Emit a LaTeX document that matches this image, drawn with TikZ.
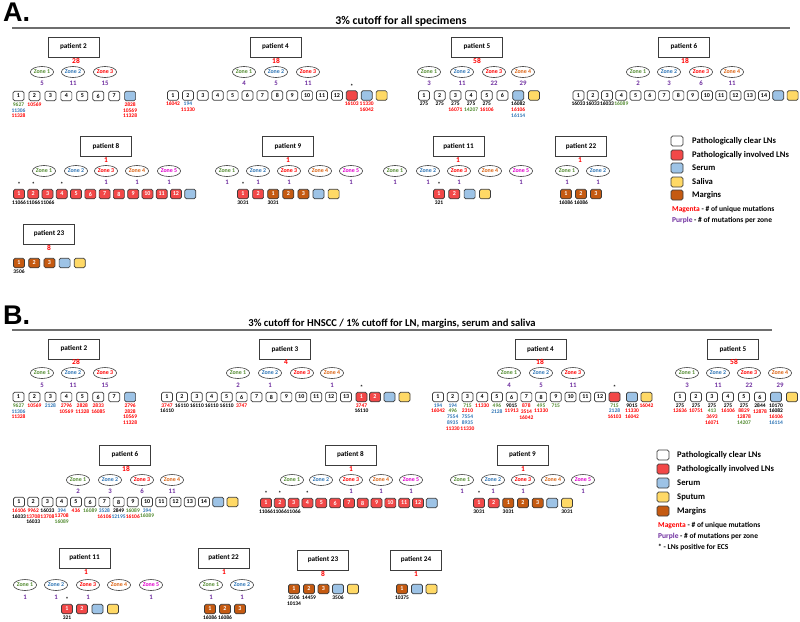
\documentclass[tikz,border=0pt]{standalone}
\usepackage{fontspec}
\setmainfont{Carlito}
\newfontfamily\arialf{Liberation Sans}
\usetikzlibrary{shapes.geometric}
\definecolor{zc1}{RGB}{84,140,50}
\definecolor{zc2}{RGB}{46,117,182}
\definecolor{zc3}{RGB}{255,0,0}
\definecolor{zc4}{RGB}{220,100,20}
\definecolor{zc5}{RGB}{225,0,205}
\definecolor{pu}{RGB}{112,48,160}
\definecolor{fred}{RGB}{242,72,72}
\definecolor{fbrown}{RGB}{197,90,17}
\definecolor{fblue}{RGB}{157,195,230}
\definecolor{fyel}{RGB}{255,217,102}
\definecolor{edge}{RGB}{60,60,60}
\definecolor{rulec}{RGB}{110,110,110}
\newcommand\xr[1]{\textcolor{zc3}{#1}}
\newcommand\xg[1]{\textcolor{zc1}{#1}}
\newcommand\xb[1]{\textcolor{zc2}{#1}}
\newcommand\Zn[3]{\node[zone,text=zc#2] (#1) at (#3) {Zone #2};}
\newcommand\Ct[3]{\node[cnt] (#1) at (#2) {#3};}
\newcommand\Un[3]{\node[uniq] (#1) at (#2) {#3};}
\newcommand\LB[2]{\node[labs] (#1L) at ([yshift=-1.2pt]#1.south) {#2};}
\newcommand\AS[1]{\node[ast] (#1S) at ([yshift=4.2pt]#1.north) {*};}
\tikzset{
 base/.style={draw=edge, line width=0.7pt, rounded corners=1.6pt, minimum width=11pt, minimum height=9.5pt, inner sep=0pt, font=\fontsize{6}{6}\selectfont\bfseries},
 clr/.style={base, fill=white},
 inv/.style={base, fill=fred, text=white},
 mar/.style={base, fill=fbrown, text=white},
 ser/.style={base, fill=fblue},
 sal/.style={base, fill=fyel},
 lgb/.style={minimum width=12pt, minimum height=10pt},
 pat/.style={draw=edge, line width=0.9pt, fill=white, minimum width=51pt, minimum height=20pt, inner sep=0pt, font=\fontsize{7.2}{8}\selectfont\bfseries},
 zone/.style={ellipse, draw=edge, line width=0.6pt, fill=white, minimum width=22.5pt, minimum height=11pt, inner sep=0pt, font=\fontsize{5.9}{6}\selectfont\bfseries},
 cnt/.style={text=pu, inner sep=0pt, font=\fontsize{6.8}{7}\selectfont\bfseries},
 uniq/.style={text=zc3, inner sep=0pt, font=\fontsize{7.5}{8}\selectfont\bfseries},
 labs/.style={inner sep=0pt, align=center, anchor=north, font=\fontsize{5.5}{5.85}\selectfont\bfseries},
 ast/.style={inner sep=0pt, font=\fontsize{6}{6}\selectfont\bfseries},
 legt/.style={anchor=west, inner sep=0pt, font=\fontsize{8.6}{9}\selectfont\bfseries},
 legs/.style={anchor=west, inner sep=0pt, font=\fontsize{7.5}{8}\selectfont\bfseries},
 big/.style={anchor=north west, inner sep=0pt, font=\arialf\bfseries\fontsize{27}{27}\selectfont},
}
\begin{document}
\begin{tikzpicture}[x=1pt,y=-1pt]
\useasboundingbox (0,0) rectangle (800,621);
\fill[white] (0,0) rectangle (800,621);
%%%%%%%%%%%%%%%% A
\node[big] (Alet) at (3,3) {A.};
\coordinate (ra1) at (12,28); \coordinate (ra2) at (790,28);
\draw[rulec, line width=1.1pt] (ra1) -- (ra2);
\node[inner sep=0pt, font=\fontsize{11.8}{12}\selectfont\bfseries] (Atit) at (401,21) {3\% cutoff for all specimens};
% A patient 2
\node[pat] (a2) at (73.5,47) {patient 2};
\Un{a2u}{76,61}{28}
\Zn{a2z1}{1}{42,72}\Zn{a2z2}{2}{73,72}\Zn{a2z3}{3}{105,72}
\Ct{a2c1}{42,83}{5}\Ct{a2c2}{73,83}{11}\Ct{a2c3}{105,83}{15}
\foreach \i in {1,...,7} \node[clr] (a2n\i) at ({18.5+(\i-1)*15.95},96) {\i};
\node[ser] (a2s) at (130.1,96) {};
\LB{a2n1}{\xg{9627}\\\xb{11306}\\\xr{11328}}
\LB{a2n2}{\xr{10569}}
\LB{a2s}{\xr{2828}\\\xr{10569}\\\xr{11328}}
% A patient 4
\node[pat] (a4) at (275.5,47) {patient 4};
\Un{a4u}{276,61}{18}
\Zn{a4z1}{1}{244,72}\Zn{a4z2}{2}{276,72}\Zn{a4z3}{3}{308,72}
\Ct{a4c1}{244,83}{4}\Ct{a4c2}{276,83}{5}\Ct{a4c3}{308,83}{11}
\foreach \i in {1,...,12} \node[clr] (a4n\i) at ({173+(\i-1)*14.9},95.5) {\i};
\node[inv] (a4r) at (351.8,95.5) {};
\node[ser] (a4s) at (366.7,95.5) {};
\node[sal] (a4y) at (381.6,95.5) {};
\AS{a4r}
\LB{a4n1}{\xr{16042}}
\LB{a4n2}{\xb{194}\\\xr{11330}}
\LB{a4r}{\xr{16103}}
\LB{a4s}{\xr{11330}\\\xr{16042}}
% A patient 5
\node[pat] (a5) at (477,47) {patient 5};
\Un{a5u}{477,61}{58}
\Zn{a5z1}{1}{429,72}\Zn{a5z2}{2}{462,72}\Zn{a5z3}{3}{494,72}\Zn{a5z4}{4}{523,72}
\Ct{a5c1}{429,83}{3}\Ct{a5c2}{462,83}{11}\Ct{a5c3}{494,83}{22}\Ct{a5c4}{523,83}{29}
\foreach \i in {1,...,6} \node[clr] (a5n\i) at ({424+(\i-1)*15.7},95.5) {\i};
\node[ser] (a5s) at (518.2,95.5) {};
\node[sal] (a5y) at (533.9,95.5) {};
\LB{a5n1}{275}\LB{a5n2}{275}
\LB{a5n3}{275\\\xr{16071}}
\LB{a5n4}{275\\\xg{14207}}
\LB{a5n5}{275\\\xr{16106}}
\LB{a5s}{16082\\\xr{16106}\\\xb{16114}}
% A patient 6
\node[pat] (a6) at (684,47) {patient 6};
\Un{a6u}{685,61}{18}
\Zn{a6z1}{1}{638,72}\Zn{a6z2}{2}{669,72}\Zn{a6z3}{3}{701,72}\Zn{a6z4}{4}{732,72}
\Ct{a6c1}{638,83}{2}\Ct{a6c2}{669,83}{3}\Ct{a6c3}{701,83}{6}\Ct{a6c4}{732,83}{11}
\foreach \i in {1,...,14} \node[clr] (a6n\i) at ({578.5+(\i-1)*14.27},95.5) {\i};
\node[ser] (a6s) at (778.3,95.5) {};
\node[sal] (a6y) at (792.6,95.5) {};
\LB{a6n1}{16033}\LB{a6n2}{16033}\LB{a6n3}{16033}\LB{a6n4}{\xg{16089}}
% A patient 8
\node[pat] (a8) at (106,146.5) {patient 8};
\Un{a8u}{106,160}{1}
\Zn{a8z1}{1}{44,171}\Zn{a8z2}{2}{76,171}\Zn{a8z3}{3}{106,171}\Zn{a8z4}{4}{137,171}\Zn{a8z5}{5}{169,171}
\Ct{a8c3}{106,182}{1}\Ct{a8c4}{137,182}{1}\Ct{a8c5}{169,182}{1}
\foreach \i in {1,...,12} \node[inv] (a8n\i) at ({19+(\i-1)*14.27},194) {\i};
\node[ser] (a8s) at (190.3,194) {};
\AS{a8n1}\AS{a8n2}\AS{a8n4}
\LB{a8n1}{11066}\LB{a8n2}{11066}\LB{a8n3}{11066}
% A patient 9
\node[pat] (a9) at (288,146.5) {patient 9};
\Un{a9u}{288,160}{1}
\Zn{a9z1}{1}{227,171}\Zn{a9z2}{2}{258,171}\Zn{a9z3}{3}{289,171}\Zn{a9z4}{4}{320,171}\Zn{a9z5}{5}{351,171}
\Ct{a9c1}{227,182}{1}\Ct{a9c2}{258,182}{1}\Ct{a9c3}{289,182}{1}\Ct{a9c5}{351,182}{1}
\node[inv] (a9r1) at (243,194) {1};
\node[inv] (a9r2) at (258.1,194) {2};
\node[mar] (a9m1) at (273.2,194) {1};
\node[mar] (a9m2) at (288.3,194) {2};
\node[mar] (a9m3) at (303.4,194) {3};
\node[ser] (a9s) at (318.5,194) {};
\node[sal] (a9y) at (333.6,194) {};
\AS{a9r1}
\LB{a9r1}{3031}\LB{a9m1}{3031}
% A patient 11
\node[pat] (a11) at (458.5,146.5) {patient 11};
\Un{a11u}{458,160}{1}
\Zn{a11z1}{1}{395,171}\Zn{a11z2}{2}{428,171}\Zn{a11z3}{3}{459,171}\Zn{a11z4}{4}{490,171}\Zn{a11z5}{5}{521,171}
\Ct{a11c1}{395,182}{1}\Ct{a11c2}{428,182}{1}\Ct{a11c3}{459,182}{1}\Ct{a11c5}{521,182}{1}
\node[inv] (a11r1) at (439,194) {1};
\node[inv] (a11r2) at (454.3,194) {2};
\node[ser] (a11s) at (469.6,194) {};
\node[sal] (a11y) at (484.9,194) {};
\AS{a11r1}
\LB{a11r1}{321}
% A patient 22
\node[pat] (a22) at (581,146.5) {patient 22};
\Un{a22u}{580,160}{1}
\Zn{a22z1}{1}{567,171}\Zn{a22z2}{2}{598,171}
\Ct{a22c1}{567,182}{1}\Ct{a22c2}{598,182}{1}
\node[mar] (a22m1) at (566,194) {1};
\node[mar] (a22m2) at (581,194) {2};
\node[mar] (a22m3) at (596,194) {3};
\LB{a22m1}{16086}\LB{a22m2}{16086}
% A patient 23
\node[pat] (a23) at (49,234) {patient 23};
\Un{a23u}{49,248}{8}
\node[mar] (a23m1) at (19,263) {1};
\node[mar] (a23m2) at (34.2,263) {2};
\node[mar] (a23m3) at (49.4,263) {3};
\node[ser] (a23s) at (64.6,263) {};
\node[sal] (a23y) at (79.8,263) {};
\LB{a23m1}{3506}
% Legend A
\node[clr,lgb] (la1) at (677,141) {};\node[legt] (la1t) at (692,141) {Pathologically clear LNs};
\node[inv,lgb] (la2) at (677,155) {};\node[legt] (la2t) at (692,155) {Pathologically involved LNs};
\node[ser,lgb] (la3) at (677,168) {};\node[legt] (la3t) at (692,168) {Serum};
\node[sal,lgb] (la4) at (677,182) {};\node[legt] (la4t) at (692,182) {Saliva};
\node[mar,lgb] (la5) at (677,195) {};\node[legt] (la5t) at (692,195) {Margins};
\node[legs] (la6) at (672,209) {\xr{Magenta} - \# of unique mutations};
\node[legs] (la7) at (672,220) {\textcolor{pu}{Purple} - \# of mutations per zone};
%%%%%%%%%%%%%%%% B
\node[big] (Blet) at (3,306) {B.};
\coordinate (rb1) at (12,330); \coordinate (rb2) at (772,330);
\draw[rulec, line width=1.1pt] (rb1) -- (rb2);
\node[inner sep=0pt, font=\fontsize{10.6}{11}\selectfont\bfseries] (Btit) at (392,324) {3\% cutoff for HNSCC / 1\% cutoff for LN, margins, serum and saliva};
% B patient 2
\node[pat] (b2) at (74,349) {patient 2};
\Un{b2u}{76,362}{28}
\Zn{b2z1}{1}{42,373}\Zn{b2z2}{2}{73,373}\Zn{b2z3}{3}{105,373}
\Ct{b2c1}{42,385}{5}\Ct{b2c2}{73,385}{11}\Ct{b2c3}{105,385}{15}
\foreach \i in {1,...,7} \node[clr] (b2n\i) at ({18.5+(\i-1)*15.95},397) {\i};
\node[ser] (b2s) at (130.1,397) {};
\LB{b2n1}{\xg{9627}\\\xb{11306}\\\xr{11328}}
\LB{b2n2}{\xr{10569}}
\LB{b2n3}{\xb{2128}}
\LB{b2n4}{\xr{2796}\\\xr{10569}}
\LB{b2n5}{\xr{2828}\\\xr{11328}}
\LB{b2n6}{\xr{2833}\\\xr{16085}}
\LB{b2s}{\xr{2796}\\\xr{2828}\\\xr{10569}\\\xr{11328}}
% B patient 3
\node[pat] (b3) at (285,349.5) {patient 3};
\Un{b3u}{286,362}{4}
\Zn{b3z1}{1}{238,373}\Zn{b3z2}{2}{270,373}\Zn{b3z3}{3}{302,373}\Zn{b3z4}{4}{332,373}
\Ct{b3c1}{238,385}{2}\Ct{b3c2}{270,385}{1}\Ct{b3c4}{332,385}{1}
\foreach \i in {1,...,13} \node[clr] (b3n\i) at ({167+(\i-1)*14.92},397) {\i};
\node[inv] (b3r1) at (361.5,397) {1};
\node[inv] (b3r2) at (375,397) {2};
\node[ser] (b3s) at (389.5,397) {};
\node[sal] (b3y) at (404.5,397) {};
\AS{b3r1}
\LB{b3n1}{\xr{3747}\\16110}
\LB{b3n2}{16110}\LB{b3n3}{16110}\LB{b3n4}{16110}\LB{b3n5}{16110}
\LB{b3n6}{\xr{3747}}
\LB{b3r1}{\xr{3747}\\16110}
% B patient 4
\node[pat] (b4) at (540.5,349.5) {patient 4};
\Un{b4u}{540,362}{18}
\Zn{b4z1}{1}{509,373}\Zn{b4z2}{2}{541,373}\Zn{b4z3}{3}{573,373}
\Ct{b4c1}{509,385}{4}\Ct{b4c2}{541,385}{5}\Ct{b4c3}{573,385}{11}
\foreach \i in {1,...,12} \node[clr] (b4n\i) at ({438+(\i-1)*14.73},397) {\i};
\node[inv] (b4r) at (614.5,397) {};
\node[ser] (b4s) at (632,397) {};
\node[sal] (b4y) at (646.5,397) {};
\AS{b4r}
\LB{b4n1}{\xb{194}\\\xr{16042}}
\LB{b4n2}{\xb{194}\\\xg{496}\\\xb{7554}\\\xb{8935}\\\xr{11330}}
\LB{b4n3}{\xg{715}\\\xr{2310}\\\xb{7554}\\\xb{8935}\\\xr{11330}}
\LB{b4n4}{\xr{11330}}
\LB{b4n5}{\xg{496}\\\xb{2128}}
\LB{b4n6}{9015\\\xr{11913}}
\LB{b4n7}{\xr{878}\\\xr{3514}\\\xr{16042}}
\LB{b4n8}{\xg{495}\\\xr{11330}}
\LB{b4n9}{\xg{715}}
\LB{b4r}{\xg{715}\\\xb{2128}\\\xr{16103}}
\LB{b4s}{9015\\\xr{11330}\\\xr{16042}}
\LB{b4y}{\xr{16042}}
% B patient 5
\node[pat] (b5) at (733,349.5) {patient 5};
\Un{b5u}{734,362}{58}
\Zn{b5z1}{1}{687,373}\Zn{b5z2}{2}{718,373}\Zn{b5z3}{3}{749,373}\Zn{b5z4}{4}{780,373}
\Ct{b5c1}{687,385}{3}\Ct{b5c2}{718,385}{11}\Ct{b5c3}{749,385}{22}\Ct{b5c4}{780,385}{29}
\foreach \i in {1,...,6} \node[clr] (b5n\i) at ({680+(\i-1)*16},397) {\i};
\node[ser] (b5s) at (776,397) {};
\node[sal] (b5y) at (792,397) {};
\LB{b5n1}{275\\\xr{12636}}
\LB{b5n2}{275\\\xr{10751}}
\LB{b5n3}{275\\\xg{413}\\\xr{3693}\\\xr{16071}}
\LB{b5n4}{275\\\xr{16106}}
\LB{b5n5}{275\\\xr{8829}\\\xr{12878}\\\xg{14207}}
\LB{b5n6}{2844\\\xr{12878}}
\LB{b5s}{10170\\16082\\\xr{16106}\\\xb{16114}}
% B patient 6
\node[pat] (b6) at (125,455) {patient 6};
\Un{b6u}{126,469}{18}
\Zn{b6z1}{1}{78,480}\Zn{b6z2}{2}{110,480}\Zn{b6z3}{3}{142,480}\Zn{b6z4}{4}{172,480}
\Ct{b6c1}{78,491}{2}\Ct{b6c2}{110,491}{3}\Ct{b6c3}{142,491}{6}\Ct{b6c4}{172,491}{11}
\foreach \i in {1,...,14} \node[clr] (b6n\i) at ({19+(\i-1)*14.23},502) {\i};
\node[ser] (b6s) at (218.2,502) {};
\node[sal] (b6y) at (232.5,502) {};
\LB{b6n1}{\xr{16106}\\16033}
\LB{b6n2}{\xr{9962}\\\xr{13708}\\16033}
\LB{b6n3}{16033\\\xr{13708}}
\LB{b6n4}{\xb{394}\\\xr{13708}\\\xg{16089}}
\LB{b6n5}{\xr{436}}
\LB{b6n6}{\xg{16089}}
\LB{b6n7}{\xb{3528}\\\xr{16106}}
\LB{b6n8}{2849\\\xb{12195}}
\LB{b6n9}{\xg{16089}\\\xr{16106}}
\LB{b6n10}{\xb{394}\\\xg{16089}}
% B patient 8
\node[pat] (b8) at (350.5,455) {patient 8};
\Un{b8u}{351,469}{1}
\Zn{b8z1}{1}{292,480}\Zn{b8z2}{2}{321,480}\Zn{b8z3}{3}{351,480}\Zn{b8z4}{4}{381,480}\Zn{b8z5}{5}{411,480}
\Ct{b8c3}{351,491}{1}\Ct{b8c4}{381,491}{1}\Ct{b8c5}{411,491}{1}
\foreach \i in {1,...,12} \node[inv] (b8n\i) at ({266+(\i-1)*13.82},503) {\i};
\node[ser] (b8s) at (431.8,503) {};
\AS{b8n1}\AS{b8n2}\AS{b8n4}
\LB{b8n1}{11066}\LB{b8n2}{11066}\LB{b8n3}{11066}
% B patient 9
\node[pat] (b9) at (522.5,455) {patient 9};
\Un{b9u}{523,469}{1}
\Zn{b9z1}{1}{462,480}\Zn{b9z2}{2}{493,480}\Zn{b9z3}{3}{523,480}\Zn{b9z4}{4}{553,480}\Zn{b9z5}{5}{583,480}
\Ct{b9c1}{462,491}{1}\Ct{b9c2}{493,491}{1}\Ct{b9c3}{523,491}{1}\Ct{b9c5}{583,491}{1}
\node[inv] (b9r1) at (479,503) {1};
\node[inv] (b9r2) at (493.7,503) {2};
\node[mar] (b9m1) at (508.3,503) {1};
\node[mar] (b9m2) at (523,503) {2};
\node[mar] (b9m3) at (537.7,503) {3};
\node[ser] (b9s) at (552.3,503) {};
\node[sal] (b9y) at (567,503) {};
\AS{b9r1}
\LB{b9r1}{3031}\LB{b9m1}{3031}\LB{b9y}{3031}
% B patient 11
\node[pat] (b11) at (84.5,558) {patient 11};
\Un{b11u}{86,572}{1}
\Zn{b11z1}{1}{25,585}\Zn{b11z2}{2}{56,585}\Zn{b11z3}{3}{88,585}\Zn{b11z4}{4}{119,585}\Zn{b11z5}{5}{151,585}
\Ct{b11c1}{25,597}{1}\Ct{b11c2}{56,597}{1}\Ct{b11c3}{88,597}{1}\Ct{b11c5}{151,597}{1}
\node[inv] (b11r1) at (67,609) {1};
\node[inv] (b11r2) at (82,609) {2};
\node[ser] (b11s) at (97.5,609) {};
\node[sal] (b11y) at (113,609) {};
\AS{b11r1}
\LB{b11r1}{321}
% B patient 22
\node[pat] (b22) at (223.5,558) {patient 22};
\Un{b22u}{224,572}{1}
\Zn{b22z1}{1}{211,585}\Zn{b22z2}{2}{242,585}
\Ct{b22c1}{211,597}{1}\Ct{b22c2}{242,597}{1}
\node[mar] (b22m1) at (210,609) {1};
\node[mar] (b22m2) at (225,609) {2};
\node[mar] (b22m3) at (240,609) {3};
\LB{b22m1}{16086}\LB{b22m2}{16086}
% B patient 23
\node[pat] (b23) at (323,560) {patient 23};
\Un{b23u}{323,574}{8}
\node[mar] (b23m1) at (294,589) {1};
\node[mar] (b23m2) at (309,589) {2};
\node[mar] (b23m3) at (323.5,589) {3};
\node[ser] (b23s) at (338,589) {};
\node[sal] (b23y) at (353,589) {};
\LB{b23m1}{3506\\10134}\LB{b23m2}{14459}\LB{b23s}{3506}
% B patient 24
\node[pat] (b24) at (416,560) {patient 24};
\Un{b24u}{416,574}{1}
\node[mar] (b24m1) at (402,589) {1};
\node[ser] (b24s) at (417,589) {};
\node[sal] (b24y) at (431.5,589) {};
\LB{b24m1}{10375}
% Legend B
\node[clr,lgb] (lb1) at (663,455) {};\node[legt] (lb1t) at (677,455) {Pathologically clear LNs};
\node[inv,lgb] (lb2) at (663,469) {};\node[legt] (lb2t) at (677,469) {Pathologically involved LNs};
\node[ser,lgb] (lb3) at (663,483) {};\node[legt] (lb3t) at (677,483) {Serum};
\node[sal,lgb] (lb4) at (663,497) {};\node[legt] (lb4t) at (677,497) {Sputum};
\node[mar,lgb] (lb5) at (663,511) {};\node[legt] (lb5t) at (677,511) {Margins};
\node[legs] (lb6) at (658,525) {\xr{Magenta} - \# of unique mutations};
\node[legs] (lb7) at (658,536) {\textcolor{pu}{Purple} - \# of mutations per zone};
\node[legs] (lb8) at (658,547) {* - LNs positive for ECS};
\end{tikzpicture}
\end{document}
